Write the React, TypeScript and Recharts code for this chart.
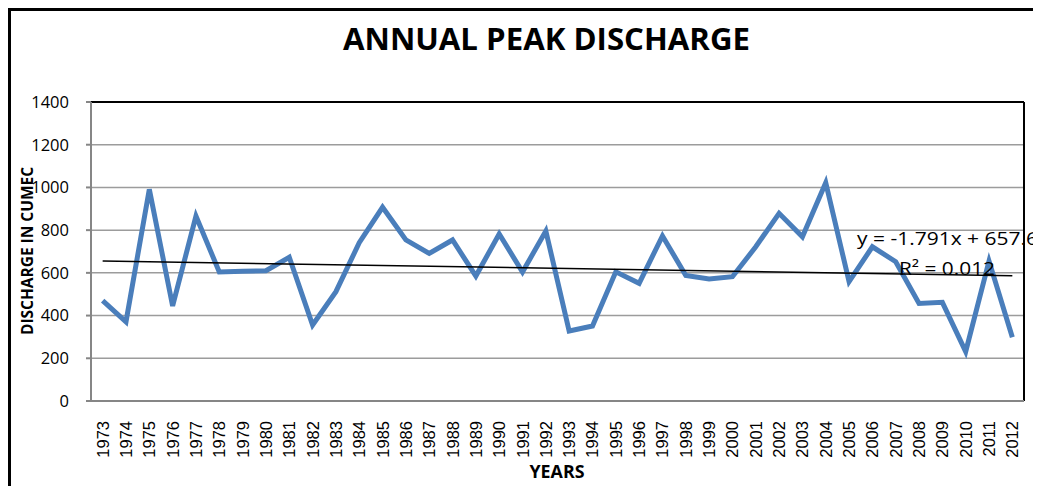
import React from "react";
import { CartesianGrid, Line, LineChart, ReferenceLine, XAxis, YAxis } from "recharts";

// annual peak discharge, cumec
const YEARS = [
  1973, 1974, 1975, 1976, 1977, 1978, 1979, 1980, 1981, 1982,
  1983, 1984, 1985, 1986, 1987, 1988, 1989, 1990, 1991, 1992,
  1993, 1994, 1995, 1996, 1997, 1998, 1999, 2000, 2001, 2002,
  2003, 2004, 2005, 2006, 2007, 2008, 2009, 2010, 2011, 2012
];
const DISCHARGE = [
  470, 371, 991, 445, 866, 604, 607, 610, 673, 356,
  512, 741, 907, 754, 691, 754, 585, 782, 604, 796,
  328, 351, 605, 551, 773, 588, 571, 582, 722, 879,
  769, 1022, 559, 722, 652, 457, 462, 231, 655, 298
];
const Y_TICKS = [0, 200, 400, 600, 800, 1000, 1200, 1400];
const X_DOMAIN = [1972.5, 2012.5];
const Y_DOMAIN = [0, 1400];

// linear trend as printed on the chart (x = 1..40)
const TREND_SLOPE = -1.791;
const TREND_INTERCEPT = 657.6;
const TREND_TEXT = "y = -1.791x + 657.6";
const R2_TEXT = "R\u00b2 = 0.012";

const data = YEARS.map((year, i) => ({ year, discharge: DISCHARGE[i] }));
const trendSegment = [
  { x: YEARS[0], y: TREND_INTERCEPT + TREND_SLOPE * 1 },
  { x: YEARS[YEARS.length - 1], y: TREND_INTERCEPT + TREND_SLOPE * YEARS.length }
];

const W = 1033;
const H = 478;

function YearTick(props: any) {
  const { x, y, payload } = props;
  return (
    <text
      x={x}
      y={y}
      transform={`rotate(-90, ${x}, ${y})`}
      textAnchor="end"
      dominantBaseline="central"
      fontFamily="'Liberation Sans', Arial, sans-serif"
      fontSize={16.5}
      fill="#000"
    >
      {payload.value}
    </text>
  );
}

export default function App() {
  return (
    <div style={{ position: "relative", width: W, height: H, overflow: "hidden", background: "#fff" }}>
      <LineChart width={W} height={H} data={data} margin={{ top: 94, right: 17, left: 0, bottom: 0 }}>
        <CartesianGrid vertical={false} stroke="#9c9c9c" strokeWidth={1.5} />
        <XAxis
          dataKey="year"
          type="number"
          domain={X_DOMAIN}
          ticks={YEARS}
          interval={0}
          height={85}
          tickLine={false}
          tickSize={0}
          tickMargin={20}
          axisLine={{ stroke: "#868686", strokeWidth: 2 }}
          tick={<YearTick />}
        />
        <YAxis
          domain={Y_DOMAIN}
          ticks={Y_TICKS}
          width={83}
          tickSize={5}
          tickMargin={17}
          tickLine={{ stroke: "#868686", strokeWidth: 2 }}
          axisLine={{ stroke: "#868686", strokeWidth: 2 }}
          tick={{ fill: "#000", fontSize: 16.5, fontFamily: "'Open Sans', sans-serif" }}
        />
        {/* plot-area frame: black on top and right */}
        <ReferenceLine y={Y_DOMAIN[1]} stroke="#000" strokeWidth={2} ifOverflow="visible" />
        <ReferenceLine x={X_DOMAIN[1]} stroke="#000" strokeWidth={2} ifOverflow="visible" />
        <Line
          type="linear"
          dataKey="discharge"
          stroke="#4a7ebb"
          strokeWidth={5}
          dot={false}
          isAnimationActive={false}
        />
        <ReferenceLine segment={trendSegment} stroke="#000" strokeWidth={1.5} />
      </LineChart>

      <svg
        width={W}
        height={H}
        style={{ position: "absolute", left: 0, top: 0, pointerEvents: "none" }}
        fontFamily="'Open Sans', sans-serif"
      >
        <line x1={0} y1={1.5} x2={W} y2={1.5} stroke="#000" strokeWidth={3} />
        <line x1={1.5} y1={0} x2={1.5} y2={H} stroke="#000" strokeWidth={3} />
        <text x={538.5} y={42} textAnchor="middle" fontSize={31} fontWeight={700} textLength={407} lengthAdjust="spacingAndGlyphs">
          ANNUAL PEAK DISCHARGE
        </text>
        <text
          x={24.5}
          y={243}
          transform="rotate(-90, 24.5, 243)"
          textAnchor="middle"
          fontSize={16}
          fontWeight={700}
          textLength={168}
          lengthAdjust="spacingAndGlyphs"
        >
          DISCHARGE IN CUMEC
        </text>
        <text x={549} y={470} textAnchor="middle" fontSize={17} fontWeight={700} textLength={55} lengthAdjust="spacingAndGlyphs">
          YEARS
        </text>
        <text x={849} y={237} fontSize={18} textLength={181} lengthAdjust="spacingAndGlyphs">
          {TREND_TEXT}
        </text>
        <text x={891} y={267} fontSize={18} textLength={96} lengthAdjust="spacingAndGlyphs">
          {R2_TEXT}
        </text>
      </svg>
    </div>
  );
}
